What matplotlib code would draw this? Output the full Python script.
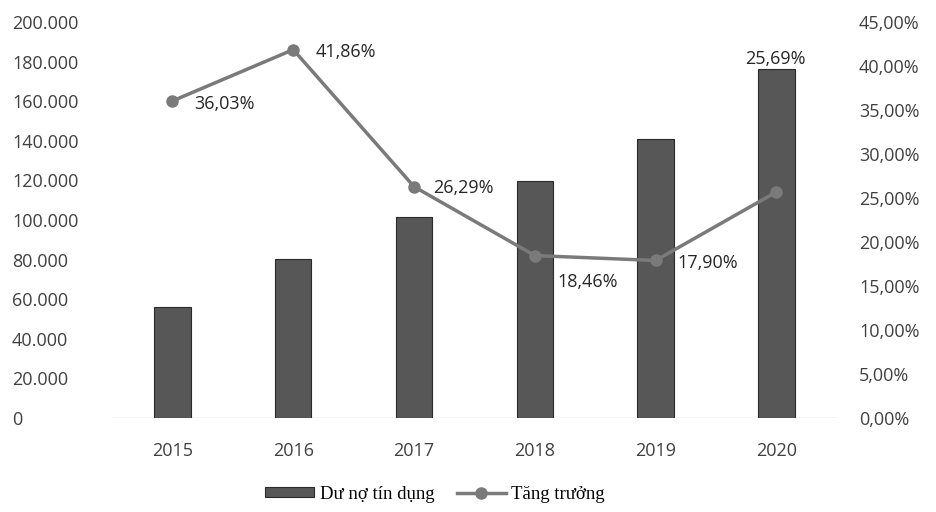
import numpy as np
import matplotlib.pyplot as plt
from matplotlib.ticker import FuncFormatter

years = ['2015', '2016', '2017', '2018', '2019', '2020']
du_no = [56000, 80300, 101500, 119700, 141000, 176300]
tang_truong = [36.03, 41.86, 26.29, 18.46, 17.90, 25.69]
left_ticks = [0, 20000, 40000, 60000, 80000, 100000, 120000, 140000, 160000, 180000, 200000]
right_ticks = [0, 5, 10, 15, 20, 25, 30, 35, 40, 45]

plt.rcParams['font.family'] = ['Open Sans', 'DejaVu Sans']

fig = plt.figure(figsize=(9.36, 5.12), dpi=100)
ax = fig.add_axes([0.1197, 0.1836, 0.894 - 0.1197, 0.957 - 0.1836])
ax2 = ax.twinx()

x = np.arange(len(years))
bars = ax.bar(x, du_no, width=0.3, color='#575757', edgecolor='#2a2a2a', linewidth=0.8,
              label='Dư nợ tín dụng', zorder=2)
ax.set_xlim(-0.5, len(years) - 0.5)
ax.set_ylim(0, 200000)
ax.set_yticks(left_ticks)
ax.yaxis.set_major_formatter(FuncFormatter(lambda v, p: f'{int(v):,}'.replace(',', '.')))
ax.set_xticks(x)
ax.set_xticklabels(years)

line, = ax2.plot(x, tang_truong, color='#7a7a7a', linewidth=2.5, marker='o', markersize=8,
                 markerfacecolor='#7a7a7a', markeredgecolor='#7a7a7a', label='Tăng trưởng', zorder=3)
ax2.set_ylim(0, 45)
ax2.set_yticks(right_ticks)
ax2.yaxis.set_major_formatter(FuncFormatter(lambda v, p: f'{v:.2f}%'.replace('.', ',')))

for a in (ax, ax2):
    for s in ['top', 'left', 'right', 'bottom']:
        a.spines[s].set_visible(False)
    a.tick_params(length=0, labelsize=13, colors='#404040')
ax.axhline(0, color='#c8c8c8', linewidth=1, zorder=1)
ax.tick_params(axis='x', pad=17)
ax.tick_params(axis='y', pad=72)
for lbl in ax.get_yticklabels():
    lbl.set_horizontalalignment('left')
ax2.tick_params(axis='y', pad=16)
for lbl in ax2.get_yticklabels():
    lbl.set_horizontalalignment('left')

# data labels, offsets in points
offsets = [(16, -2, 'left', 'center'), (16, -2, 'left', 'center'), (14, -1, 'left', 'center'),
           (16, -19, 'left', 'center'), (16, -2, 'left', 'center')]
for i, v in enumerate(tang_truong):
    txt = f'{v:.2f}%'.replace('.', ',')
    if i == len(tang_truong) - 1:
        ax.annotate(txt, (x[i], du_no[i]), xytext=(-1, 1), textcoords='offset points',
                    ha='center', va='bottom', fontsize=13, color='#262626')
    else:
        dx, dy, ha, va = offsets[i]
        ax2.annotate(txt, (x[i], v), xytext=(dx, dy), textcoords='offset points',
                     ha=ha, va=va, fontsize=13, color='#262626')

fig.legend(handles=[bars, line], loc='lower center', bbox_to_anchor=(0.465, -0.015), ncol=2,
           frameon=False, prop={'family': 'Liberation Serif', 'size': 13.5}, handlelength=2.6,
           handleheight=0.5, handletextpad=0.3, columnspacing=1.2)

plt.savefig('out.png', dpi=100)
